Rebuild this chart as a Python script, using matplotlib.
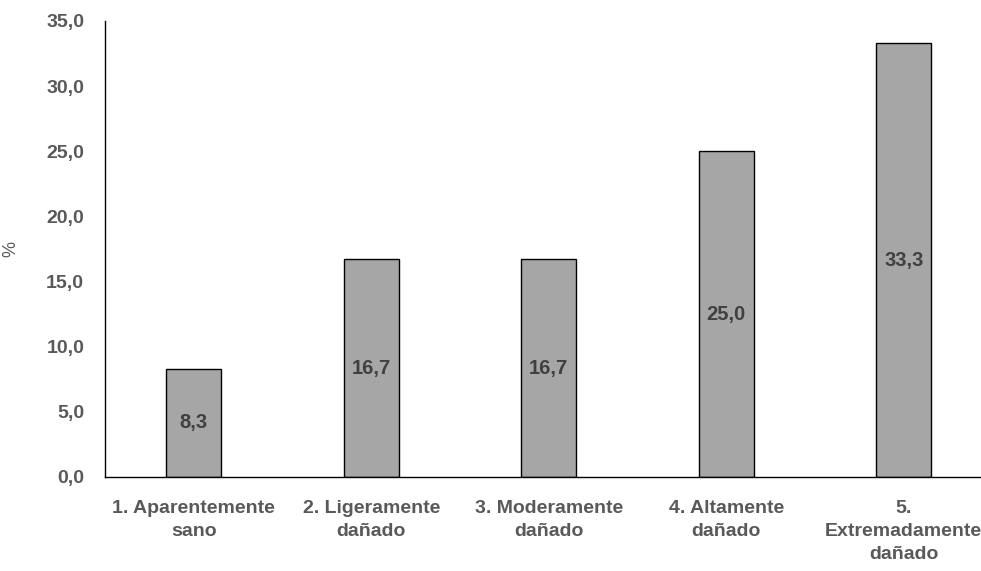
import matplotlib
matplotlib.use("Agg")
import matplotlib.pyplot as plt
import numpy as np

plt.rcParams['font.family'] = ['Liberation Sans Narrow', 'Liberation Sans', 'DejaVu Sans']

# datos
categorias = ["1. Aparentemente\nsano", "2. Ligeramente\ndañado", "3. Moderamente\ndañado",
              "4. Altamente\ndañado", "5.\nExtremadamente\ndañado"]
porcentajes = [8.3, 16.7, 16.7, 25.0, 33.3]
y_ticks = [0, 5, 10, 15, 20, 25, 30, 35]

W, H = 981, 571
fig = plt.figure(figsize=(W / 100, H / 100), dpi=100)
ax = fig.add_axes([105 / W, 1 - 477 / H, 887.5 / W, (477 - 21) / H])

x = np.arange(len(categorias))
bars = ax.bar(x, porcentajes, width=0.31, color="#a6a6a6", edgecolor="black", linewidth=1)

for b, v in zip(bars, porcentajes):
    ax.text(b.get_x() + b.get_width() / 2, v / 2, f"{v:.1f}".replace(".", ","),
            ha="center", va="center", fontsize=14.5, fontweight="bold", color="#404040")

ax.set_xlim(-0.5, len(categorias) - 0.5)
ax.set_ylim(0, 35)
ax.set_yticks(y_ticks)
ax.set_yticklabels([f"{t:.1f}".replace(".", ",") for t in y_ticks])
ax.set_xticks(x)
ax.set_xticklabels(categorias, linespacing=1.48)

for lab in ax.get_xticklabels() + ax.get_yticklabels():
    lab.set_fontweight("bold")
    lab.set_fontsize(14)
    lab.set_color("#595959")

ax.tick_params(axis="both", length=0)
ax.tick_params(axis="y", pad=15)
ax.tick_params(axis="x", pad=16.5)

ax.spines["top"].set_visible(False)
ax.spines["right"].set_visible(False)
ax.spines["left"].set_linewidth(1)
ax.spines["bottom"].set_linewidth(1)

ax.set_ylabel("%", fontsize=13, color="#595959")
ax.yaxis.set_label_coords(-0.096, 0.5)

fig.savefig("out.png", dpi=100)
